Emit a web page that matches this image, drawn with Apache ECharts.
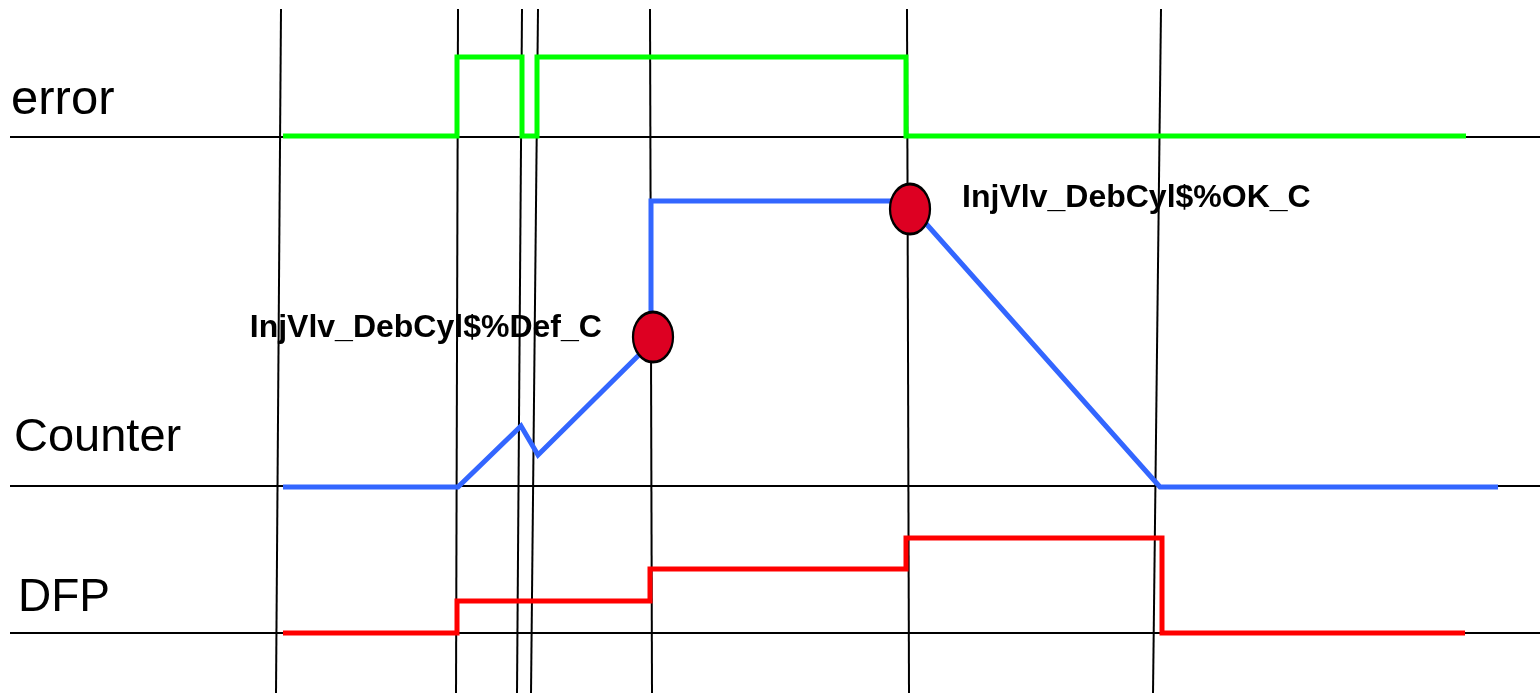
<!DOCTYPE html>
<html>
<head>
    <meta charset="utf-8">
    <script src="https://cdn.jsdelivr.net/npm/echarts@6/dist/echarts.min.js"></script>
    <style>
        html, body { margin: 0; padding: 0; background: #fff; }
    </style>
</head>
<body>
<div id="main" style="width: 1540px;height:693px;"></div>
<script type="text/javascript">
    // time runs along x, signal level along y (screen-like units, y grows downward)
    var errorWave = [[283,136],[457,136],[457,57],[522,57],[522,136],[537,136],[537,57],[906,57],[906,136],[1466,136]];
    var counterWave = [[283,487],[458,487],[521,426],[538,455],[651,343],[651,201],[906,201],[1160,487],[1498,487]];
    var dfpWave = [[283,633],[457,633],[457,601],[650,601],[650,569],[906,569],[906,538],[1162,538],[1162,633],[1465,633]];

    // thresholds reached by the counter
    var thresholdNames = ['InjVlv_DebCyl$%Def_C', 'InjVlv_DebCyl$%OK_C'];
    var thresholdPoints = [[653,337],[910,209]];

    // event markers (top x, bottom x)
    var eventTops = [281, 458, 522, 538, 650, 907, 1161];
    var eventBottoms = [276, 456, 517, 531, 652, 909, 1153];

    // baselines of each signal
    var baselineLevels = [137, 486, 633];
    var signalNames = ['error', 'Counter', 'DFP'];

    var myChart = echarts.init(document.getElementById('main'));

    var series = [];

    baselineLevels.forEach(function (y) {
        series.push({
            type: 'line',
            data: [[10, y], [1540, y]],
            showSymbol: false,
            silent: true,
            lineStyle: { color: '#000', width: 2 },
            z: 1
        });
    });

    eventTops.forEach(function (x, i) {
        series.push({
            type: 'line',
            data: [[x, 9], [eventBottoms[i], 693]],
            showSymbol: false,
            silent: true,
            lineStyle: { color: '#000', width: 2 },
            z: 1
        });
    });

    series.push({
        name: 'error', type: 'line', data: errorWave, showSymbol: false,
        lineStyle: { color: '#00ff00', width: 5, join: 'miter' }, z: 3
    });
    series.push({
        name: 'Counter', type: 'line', data: counterWave, showSymbol: false,
        lineStyle: { color: '#3366ff', width: 5, join: 'miter' }, z: 3
    });
    series.push({
        name: 'DFP', type: 'line', data: dfpWave, showSymbol: false,
        lineStyle: { color: '#ff0000', width: 5, join: 'miter' }, z: 3
    });

    series.push({
        type: 'scatter',
        symbol: 'circle',
        symbolSize: [40, 50],
        itemStyle: { color: '#dd0022', borderColor: '#000', borderWidth: 2.5, opacity: 1 },
        z: 5,
        data: [
            { value: thresholdPoints[0], name: thresholdNames[0],
              label: { position: 'left', distance: 30, offset: [0, -9] } },
            { value: thresholdPoints[1], name: thresholdNames[1],
              label: { position: 'right', distance: 31, offset: [0, -11] } }
        ],
        label: {
            show: true,
            formatter: '{b}',
            color: '#000',
            fontFamily: 'Liberation Sans',
            fontWeight: 'bold',
            fontSize: 32
        }
    });

    var nameY = [100, 438, 598];
    var nameX = [11, 14, 18];
    var nameSize = [49, 47, 46];

    var option = {
        animation: false,
        backgroundColor: '#fff',
        grid: { left: 0, right: 0, top: 0, bottom: 0 },
        xAxis: { type: 'value', min: 0, max: 1540, show: false },
        yAxis: { type: 'value', min: 0, max: 693, inverse: true, show: false },
        graphic: signalNames.map(function (n, i) {
            return {
                type: 'text',
                x: nameX[i],
                y: nameY[i],
                style: {
                    text: n,
                    fill: '#000',
                    font: nameSize[i] + 'px "Liberation Sans"',
                    verticalAlign: 'middle'
                }
            };
        }),
        series: series
    };

    myChart.setOption(option);
</script>
</body>
</html>
